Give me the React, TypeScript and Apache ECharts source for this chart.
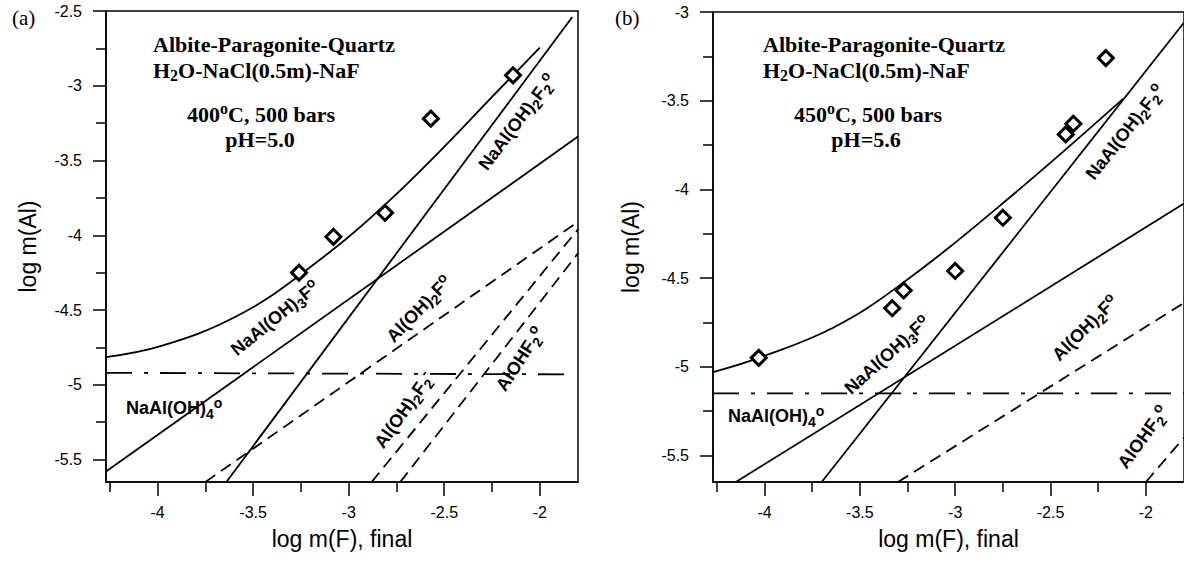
import React, { useEffect, useRef } from 'react';
import * as echarts from 'echarts';

const SANS = 'Liberation Sans, Arial, sans-serif';
const SERIF = 'Liberation Serif, Times New Roman, serif';

// ---- axes / ticks ----
const xRange = [-4.27, -1.8];
const xMajorTicks = [-4, -3.5, -3, -2.5, -2];
const xMinorTicks = [-4.25, -3.75, -3.25, -2.75, -2.25];
const yRangeA = [-5.65, -2.5];
const yMajorTicksA = [-5.5, -5, -4.5, -4, -3.5, -3, -2.5];
const yMinorTicksA = [-5.25, -4.75, -4.25, -3.75, -3.25, -2.75];
const yRangeB = [-5.65, -3];
const yMajorTicksB = [-5.5, -5, -4.5, -4, -3.5, -3];
const yMinorTicksB = [-5.25, -4.75, -4.25, -3.75, -3.25];

// ---- panel (a): 400 C, 500 bars, pH 5.0 ----
const measuredA = [[-2.14, -2.93], [-2.57, -3.22], [-2.81, -3.85], [-3.08, -4.01], [-3.26, -4.25]];
const totalA = [[-4.27, -4.815], [-3.98, -4.74], [-3.6, -4.55], [-3.26, -4.27], [-2.78, -3.76], [-2.14, -2.93], [-2.0, -2.745]];
const naAlOH2F2A = [[-3.64, -5.65], [-1.83, -2.54]];
const naAlOH3FA = [[-4.27, -5.58], [-1.8, -3.34]];
const naAlOH4A = [[-4.27, -4.92], [-1.85, -4.93]];
const alOH2FA = [[-3.75, -5.65], [-1.8, -3.91]];
const alOH2F2A = [[-2.88, -5.65], [-1.8, -3.96]];
const alOHF2A = [[-2.73, -5.65], [-1.8, -4.12]];

// ---- panel (b): 450 C, 500 bars, pH 5.6 ----
const measuredB = [[-2.21, -3.26], [-2.38, -3.63], [-2.42, -3.69], [-2.75, -4.16], [-3.0, -4.46], [-3.27, -4.57], [-3.33, -4.67], [-4.03, -4.95]];
const totalB = [[-4.27, -5.03], [-4.03, -4.95], [-3.64, -4.78], [-3.29, -4.54], [-2.73, -4.06], [-2.12, -3.49]];
const naAlOH2F2B = [[-3.7, -5.65], [-1.8, -3.06]];
const naAlOH3FB = [[-4.15, -5.65], [-1.8, -4.08]];
const naAlOH4B = [[-4.27, -5.15], [-1.8, -5.15]];
const alOH2FB = [[-3.3, -5.65], [-1.8, -4.64]];
const alOHF2B = [[-2.0, -5.65], [-1.8, -5.4]];

const DASH = [12, 7];
const DASHDOT = [26, 12, 4, 12];

function toRich(s: string) {
  const out: string[] = [];
  const re = /([_^])\{([^}]*)\}/g;
  let last = 0;
  let m: RegExpExecArray | null;
  while ((m = re.exec(s))) {
    if (m.index > last) out.push(`{n|${s.slice(last, m.index)}}`);
    out.push(`{${m[1] === '_' ? 's' : 'p'}|${m[2]}}`);
    last = re.lastIndex;
  }
  if (last < s.length) out.push(`{n|${s.slice(last)}}`);
  return out.join('');
}

function richStyles(family: string, size: number, weight: string, subSize: number, shift: number) {
  return {
    n: { fontFamily: family, fontSize: size, fontWeight: weight, lineHeight: size + 2, color: '#000' },
    s: { fontFamily: family, fontSize: subSize, fontWeight: weight, lineHeight: subSize, padding: [shift, 0, 0, 0], color: '#000' },
    p: { fontFamily: family, fontSize: subSize, fontWeight: weight, lineHeight: subSize, padding: [0, 0, shift, 0], color: '#000' },
  };
}

const sansRich = richStyles(SANS, 18, 'bold', 14, 11);
const serifRich = richStyles(SERIF, 22, 'bold', 16, 11);

function label(text: string, x: number, y: number, angleDeg: number, align = 'center', rich = sansRich) {
  return {
    type: 'text',
    x,
    y,
    rotation: (angleDeg * Math.PI) / 180,
    z: 20,
    style: {
      text: toRich(text),
      rich,
      align,
      textAlign: align,
      verticalAlign: 'middle',
      textVerticalAlign: 'middle',
      fill: '#000',
    },
  };
}

function lineSeries(data: number[][], idx: number, type: any, smooth = false) {
  return {
    type: 'line',
    xAxisIndex: idx,
    yAxisIndex: idx,
    data,
    symbol: 'none',
    smooth: smooth ? 0.4 : false,
    clip: true,
    silent: true,
    lineStyle: { color: '#000', width: 1.8, type },
    z: 3,
  };
}

function scatterSeries(data: number[][], idx: number) {
  return {
    type: 'scatter',
    xAxisIndex: idx,
    yAxisIndex: idx,
    data,
    symbol: 'diamond',
    symbolSize: 15,
    itemStyle: { color: '#fff', borderColor: '#000', borderWidth: 3, opacity: 1 },
    z: 6,
  };
}

function xAxes(gridIndex: number) {
  return [
    {
      type: 'value',
      gridIndex,
      min: xRange[0],
      max: xRange[1],
      position: 'bottom',
      name: 'log m(F), final',
      nameLocation: 'middle',
      nameGap: 45,
      nameTextStyle: { fontFamily: SANS, fontSize: 23, color: '#000' },
      axisLine: { show: true, onZero: false, lineStyle: { color: '#000', width: 1.5 } },
      axisTick: { show: true, length: 14, customValues: xMajorTicks, lineStyle: { color: '#000', width: 1.5 } },
      axisLabel: { show: true, customValues: xMajorTicks, margin: 22, fontFamily: SANS, fontSize: 16, color: '#000' },
      splitLine: { show: false },
    },
    {
      type: 'value',
      gridIndex,
      min: xRange[0],
      max: xRange[1],
      position: 'bottom',
      axisLine: { show: false, onZero: false },
      axisTick: { show: true, length: 10, customValues: xMinorTicks, lineStyle: { color: '#000', width: 1.5 } },
      axisLabel: { show: false },
      splitLine: { show: false },
    },
  ];
}

function yAxes(gridIndex: number, range: number[], major: number[], minor: number[], gap: number) {
  return [
    {
      type: 'value',
      gridIndex,
      min: range[0],
      max: range[1],
      position: 'left',
      name: 'log m(Al)',
      nameLocation: 'middle',
      nameGap: gap,
      nameTextStyle: { fontFamily: SANS, fontSize: 23, color: '#000' },
      axisLine: { show: true, onZero: false, lineStyle: { color: '#000', width: 1.5 } },
      axisTick: { show: true, length: 13, customValues: major, lineStyle: { color: '#000', width: 1.5 } },
      axisLabel: { show: true, customValues: major, margin: 24, fontFamily: SANS, fontSize: 16, color: '#000' },
      splitLine: { show: false },
    },
    {
      type: 'value',
      gridIndex,
      min: range[0],
      max: range[1],
      position: 'left',
      axisLine: { show: false, onZero: false },
      axisTick: { show: true, length: 10, customValues: minor, lineStyle: { color: '#000', width: 1.5 } },
      axisLabel: { show: false },
      splitLine: { show: false },
    },
  ];
}

export default function App() {
  const ref = useRef<HTMLDivElement>(null);
  useEffect(() => {
    if (!ref.current) return;
    const chart = echarts.init(ref.current, undefined, { renderer: 'svg' });
    const xa = xAxes(0);
    const xb = xAxes(1);
    const ya = yAxes(0, yRangeA, yMajorTicksA, yMinorTicksA, 67);
    const yb = yAxes(1, yRangeB, yMajorTicksB, yMinorTicksB, 71);
    // axis indices: a major 0, a minor 1, b major 2, b minor 3 -> series use 0 and 2
    const option: any = {
      animation: false,
      backgroundColor: '#fff',
      grid: [
        { left: 106, top: 11, width: 472, height: 471, show: true, borderColor: '#000', borderWidth: 1.5, backgroundColor: 'transparent' },
        { left: 713, top: 12, width: 472, height: 470, show: true, borderColor: '#000', borderWidth: 1.5, backgroundColor: 'transparent' },
      ],
      xAxis: [...xa, ...xb],
      yAxis: [...ya, ...yb],
      series: [
        lineSeries(totalA, 0, 'solid', true),
        lineSeries(naAlOH2F2A, 0, 'solid'),
        lineSeries(naAlOH3FA, 0, 'solid'),
        lineSeries(naAlOH4A, 0, DASHDOT),
        lineSeries(alOH2FA, 0, DASH),
        lineSeries(alOH2F2A, 0, DASH),
        lineSeries(alOHF2A, 0, DASH),
        scatterSeries(measuredA, 0),
        lineSeries(totalB, 2, 'solid', true),
        lineSeries(naAlOH2F2B, 2, 'solid'),
        lineSeries(naAlOH3FB, 2, 'solid'),
        lineSeries(naAlOH4B, 2, DASHDOT),
        lineSeries(alOH2FB, 2, DASH),
        lineSeries(alOHF2B, 2, DASH),
        scatterSeries(measuredB, 2),
      ],
      graphic: [
        { type: 'text', x: 12, y: 18, style: { text: '(a)', font: `21px ${SERIF}`, fill: '#000', verticalAlign: 'middle', textVerticalAlign: 'middle' } },
        { type: 'text', x: 615, y: 18, style: { text: '(b)', font: `21px ${SERIF}`, fill: '#000', verticalAlign: 'middle', textVerticalAlign: 'middle' } },
        label('Albite-Paragonite-Quartz', 153, 44, 0, 'left', serifRich),
        label('H_{2}O-NaCl(0.5m)-NaF', 153, 70, 0, 'left', serifRich),
        label('400^{o}C, 500 bars', 261, 114, 0, 'center', serifRich),
        label('pH=5.0', 260, 139, 0, 'center', serifRich),
        label('Albite-Paragonite-Quartz', 763, 44, 0, 'left', serifRich),
        label('H_{2}O-NaCl(0.5m)-NaF', 763, 70, 0, 'left', serifRich),
        label('450^{o}C, 500 bars', 868, 114, 0, 'center', serifRich),
        label('pH=5.6', 866, 139, 0, 'center', serifRich),
        // panel a species labels
        label('NaAl(OH)_{2}F_{2}^{o}', 517, 122, 53),
        label('NaAl(OH)_{3}F^{o}', 275, 318, 39),
        label('Al(OH)_{2}F^{o}', 419, 309, 46),
        label('Al(OH)_{2}F_{2}^{-}', 404, 410, 55),
        label('AlOHF_{2}^{o}', 520, 359, 57),
        label('NaAl(OH)_{4}^{o}', 126, 408, 0, 'left'),
        // panel b species labels
        label('NaAl(OH)_{2}F_{2}^{o}', 1125, 132, 52),
        label('NaAl(OH)_{3}F^{o}', 887, 355, 42),
        label('Al(OH)_{2}F^{o}', 1085, 328, 45),
        label('AlOHF_{2}^{o}', 1143, 437, 54),
        label('NaAl(OH)_{4}^{o}', 728, 416, 0, 'left'),
      ],
    };
    chart.setOption(option);
    return () => chart.dispose();
  }, []);
  return <div ref={ref} style={{ position: 'absolute', left: 0, top: 0, width: 1184, height: 565, background: '#fff' }} />;
}
